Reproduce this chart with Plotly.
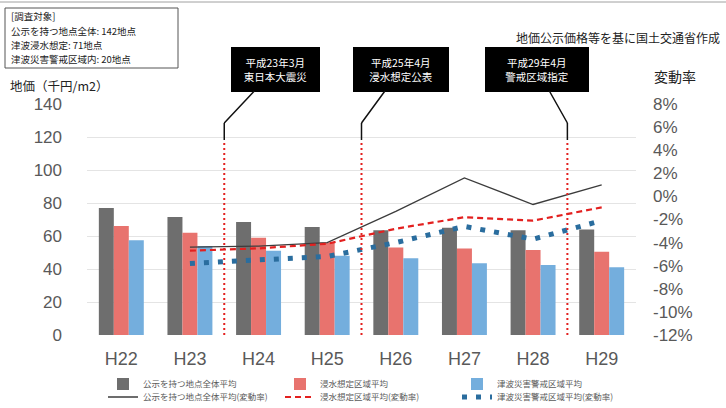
import plotly.graph_objects as go

# Fiscal years (Heisei era)
categories = ["H22", "H23", "H24", "H25", "H26", "H27", "H28", "H29"]

# Average land price (thousand yen / m2)
price_all = [77, 71.5, 68.5, 65.5, 63.5, 65, 63.5, 64]
price_inundation = [66, 62, 59, 56, 53, 52.5, 51.5, 50.5]
price_warning = [57.5, 54, 51, 48, 46.5, 43.5, 42.5, 41]

# Year-on-year change rate (%)
rate_all = [None, -4.4, -4.3, -4.0, -1.3, 1.6, -0.7, 1.0]
rate_inundation = [None, -4.7, -4.5, -4.1, -2.8, -1.8, -2.1, -0.95]
rate_warning = [None, -5.8, -5.5, -5.2, -4.0, -2.6, -3.7, -2.1]

series_names = ["公示を持つ地点全体平均", "浸水想定区域平均", "津波災害警戒区域平均"]
rate_suffix = "(変動率)"

# Survey target note
note_lines = ["[調査対象]", "公示を持つ地点全体: 142地点", "津波浸水想定: 71地点", "津波災害警戒区域内: 20地点"]

# Events placed between fiscal years (category index positions)
event_pos = [1.5, 3.5, 6.5]
event_text = ["平成23年3月<br>東日本大震災", "平成25年4月<br>浸水想定公表", "平成29年4月<br>警戒区域指定"]
event_box = [(275, 69, 87), (401, 69, 94), (537, 69, 102)]  # centre x, centre y, width

left_ticks = [0, 20, 40, 60, 80, 100, 120, 140]
right_ticks = [-12, -10, -8, -6, -4, -2, 0, 2, 4, 6, 8]

# Plot-area geometry (pixels)
W, H = 726, 408
L, R, T, B = 87, 636, 104, 335
pw, ph = R - L, B - T


def px_x(px):
    return (px - L) / pw


def px_y(py):
    return (B - py) / ph


def val_at_py(py):
    return (B - py) / ph * 140


bar_colors = ["#6e6e6e", "#e8736e", "#74aedd"]
tick_font = dict(family="Liberation Sans, Arial, sans-serif", size=17, color="#595959")
jp = "Noto Sans CJK JP, sans-serif"

fig = go.Figure()

for name, vals, col in zip(series_names, [price_all, price_inundation, price_warning], bar_colors):
    fig.add_trace(go.Bar(x=categories, y=vals, name=name, legend="legend",
                         marker=dict(color=col, line=dict(width=0))))

fig.add_trace(go.Scatter(x=categories, y=rate_all, name=series_names[0] + rate_suffix, yaxis="y2",
                         legend="legend2", mode="lines", line=dict(color="#3c3c3c", width=1.3)))
fig.add_trace(go.Scatter(x=categories, y=rate_inundation, name=series_names[1] + rate_suffix, yaxis="y2",
                         legend="legend2", mode="lines", line=dict(color="#e3201f", width=2.2, dash="6px,4px")))
fig.add_trace(go.Scatter(x=categories, y=rate_warning, name=series_names[2] + rate_suffix, yaxis="y2",
                         legend="legend2", mode="lines", line=dict(color="#2a6d9e", width=5, dash="5px,9px")))

shapes = []
annotations = []
for pos, txt, (bx, by, bw) in zip(event_pos, event_text, event_box):
    # red dotted marker line down to the axis
    shapes.append(dict(type="line", xref="x", yref="y", x0=pos, x1=pos, y0=0, y1=val_at_py(140),
                       line=dict(color="#e3201f", width=2, dash="2px,3px")))
    # short black stem joining the callout
    shapes.append(dict(type="line", xref="x", yref="y", x0=pos, x1=pos, y0=val_at_py(140), y1=val_at_py(123),
                       line=dict(color="#111111", width=1.5)))
    px = L + (pos + 0.5) * pw / len(categories)
    annotations.append(dict(x=pos, y=val_at_py(123), xref="x", yref="y", text=txt,
                            showarrow=True, arrowhead=0, arrowwidth=1.5, arrowcolor="#111111",
                            ax=bx - px, ay=by - 123, bgcolor="#000000", bordercolor="#000000",
                            borderpad=3, width=bw - 6, height=37,
                            font=dict(family=jp, size=10.5, color="#ffffff")))

# survey target note box
shapes.append(dict(type="rect", xref="paper", yref="paper", x0=px_x(5), x1=px_x(178), y0=px_y(8), y1=px_y(68),
                   line=dict(color="#555555", width=1), fillcolor="#ffffff"))
for i, line in enumerate(note_lines):
    annotations.append(dict(xref="paper", yref="paper", x=px_x(9), y=px_y(16 + 14.5 * i),
                            xanchor="left", yanchor="middle", text=line, showarrow=False,
                            font=dict(family=jp, size=9.5, color="#222222")))
# source note
annotations.append(dict(xref="paper", yref="paper", x=px_x(722), y=px_y(38), xanchor="right", yanchor="middle",
                        text="地価公示価格等を基に国土交通省作成", showarrow=False,
                        font=dict(family=jp, size=12, color="#222222")))
# axis titles
annotations.append(dict(xref="paper", yref="paper", x=px_x(8), y=px_y(85), xanchor="left", yanchor="middle",
                        text="地価（千円/m2）", showarrow=False,
                        font=dict(family=jp, size=12.5, color="#222222")))
annotations.append(dict(xref="paper", yref="paper", x=px_x(652), y=px_y(76), xanchor="left", yanchor="middle",
                        text="変動率", showarrow=False,
                        font=dict(family=jp, size=14, color="#222222")))

# thin frame line along the top edge
shapes.append(dict(type="line", xref="paper", yref="paper", x0=px_x(0), x1=px_x(W), y0=px_y(2), y1=px_y(2),
                   line=dict(color="#a0a0a0", width=1)))

legend_common = dict(orientation="h", xanchor="left", yanchor="middle",
                     entrywidth=132, entrywidthmode="pixels", itemwidth=30,
                     font=dict(family=jp, size=8.5, color="#595959"), tracegroupgap=0,
                     bgcolor="rgba(0,0,0,0)")

fig.update_layout(
    width=W, height=H,
    margin=dict(l=L, r=W - R, t=T, b=H - B, pad=0, autoexpand=False),
    paper_bgcolor="#ffffff", plot_bgcolor="#ffffff",
    barmode="group", bargap=0.345, bargroupgap=0,
    showlegend=True,
    legend=dict(x=px_x(103), y=px_y(384), **legend_common),
    legend2=dict(x=px_x(103), y=px_y(397), **legend_common),
    xaxis=dict(type="category", categoryorder="array", categoryarray=categories,
               showgrid=False, showline=False, zeroline=False, ticks="",
               tickfont=dict(family="Liberation Sans, Arial, sans-serif", size=18, color="#595959"),
               ticklabelstandoff=11),
    yaxis=dict(range=[0, 140], tickvals=left_ticks, showgrid=True, gridcolor="#e4e4e4", gridwidth=1,
               zeroline=False, showline=False, ticks="", tickfont=tick_font, ticklabelstandoff=24),
    yaxis2=dict(range=[-12, 8], tickvals=right_ticks, ticktext=[f"{v}%" for v in right_ticks],
                overlaying="y", side="right", showgrid=False, zeroline=False, showline=False,
                ticks="", tickfont=tick_font, ticklabelstandoff=16),
    shapes=shapes, annotations=annotations,
)

fig.write_html("out.html")
